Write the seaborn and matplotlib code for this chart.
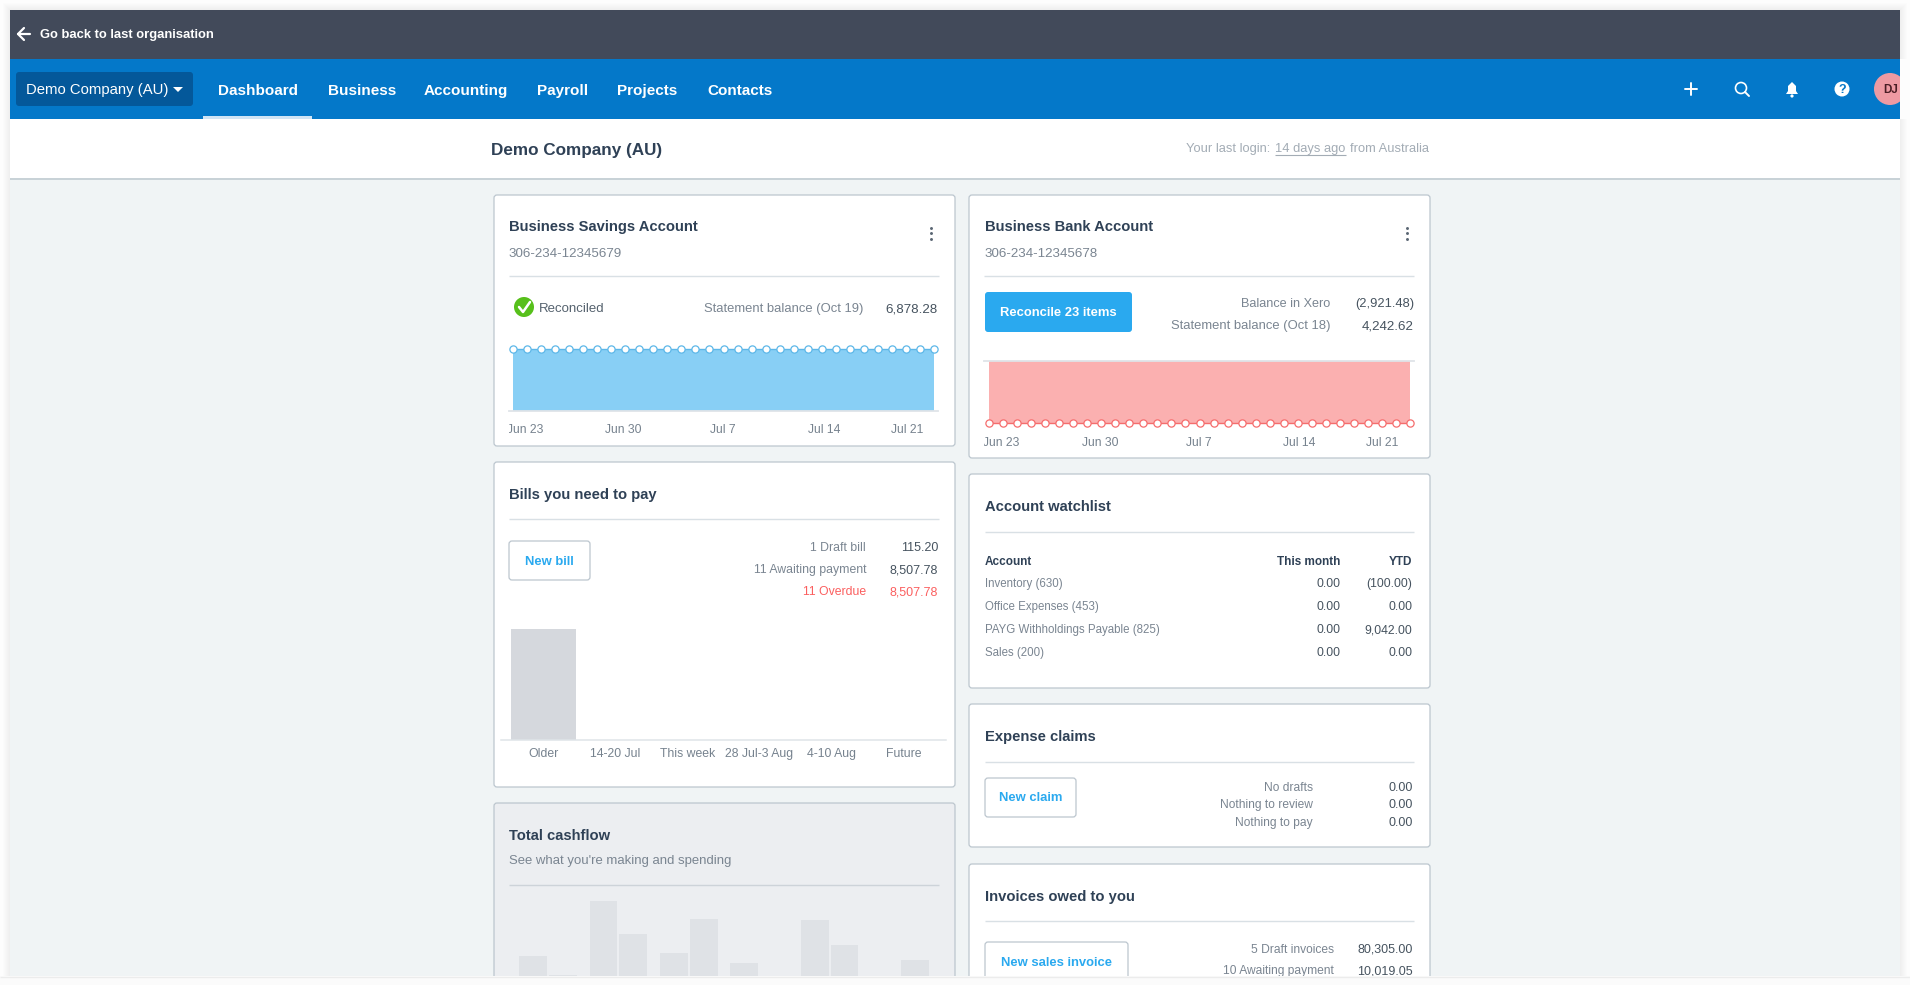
import matplotlib
matplotlib.use("Agg")
import matplotlib.pyplot as plt
from matplotlib.patches import FancyBboxPatch, Rectangle, Circle, Polygon
from matplotlib.transforms import Bbox
import pandas as pd
import seaborn as sns

# ---------- data ----------
day_index = list(range(31))
savings_balance = [6878.28] * 31
bank_balance = [-2921.48] * 31
balance_tick_labels = ["Jun 23", "Jun 30", "Jul 7", "Jul 14", "Jul 21"]
bill_buckets = ["Older", "14-20 Jul", "This week", "28 Jul-3 Aug", "4-10 Aug", "Future"]
bill_amounts = [8507.78, 0, 0, 0, 0, 0]
cash_periods = ["P1", "P2", "P3", "P4", "P5", "P6"]
cash_in = [34, 89, 37, 27, 70, 0]
cash_out = [15, 56, 71, 0, 45, 30]
nav_items = ["Dashboard", "Business", "Accounting", "Payroll", "Projects", "Contacts"]
watch_accounts = ["Inventory (630)", "Office Expenses (453)", "PAYG Withholdings Payable (825)", "Sales (200)"]
watch_month = ["0.00", "0.00", "0.00", "0.00"]
watch_ytd = ["(100.00)", "0.00", "9,042.00", "0.00"]

# ---------- style ----------
sns.set_theme(style="white")
plt.rcParams["font.family"] = ["Liberation Sans", "DejaVu Sans"]
W, H = 1910, 985
DARK, GREY, VAL = "#2f4156", "#7a8591", "#46535f"
BLUE, RED, LINE = "#2aa9ef", "#fb5f5f", "#d9e0e5"
BODY = 9.0
HEAD = 10.6

fig = plt.figure(figsize=(W / 100, H / 100), dpi=100, facecolor="#fdfdfd")
ui = fig.add_axes([0, 0, 1, 1])
ui.set_xlim(0, W)
ui.set_ylim(H, 0)
ui.axis("off")


def px_axes(l, t, r, b):
    ax = fig.add_axes([l / W, 1 - b / H, (r - l) / W, (b - t) / H])
    ax.patch.set_alpha(0)
    return ax


def rect(l, t, r, b, color, z=1, alpha=1):
    ui.add_patch(Rectangle((l, t), r - l, b - t, fc=color, ec="none", zorder=z, alpha=alpha))


def rrect(l, t, r, b, fc, ec="#bcc6ce", rad=3, z=2, lw=0.9):
    ui.add_patch(FancyBboxPatch((l, t), r - l, b - t, boxstyle=f"round,pad=0,rounding_size={rad}",
                                fc=fc, ec=ec, lw=lw, zorder=z))


def txt(x, y, s, color=GREY, size=BODY, weight="normal", ha="left", z=6):
    # y is the visual middle of the capitals; placed on a common baseline
    ui.text(x, y + 0.34 * size * 1.389, s, color=color, fontsize=size, fontweight=weight,
            ha=ha, va="baseline", zorder=z)


def hline(l, r, y, color=LINE, lw=1.0, z=3):
    ui.plot([l, r], [y, y], color=color, lw=lw, zorder=z, solid_capstyle="butt")


def kebab(x, y):
    ui.scatter([x, x, x], [y - 5.5, y, y + 5.5], s=4.5, color="#5a6673", zorder=6, linewidths=0)


# window and shadow
for i in range(1, 8):
    rect(10 - i, 10 - i, 1900 + i, 976 + i, "#000000", z=0, alpha=0.006)
rect(10, 10, 1900, 976, "#f0f4f5", z=0.5)
rect(10, 10, 1900, 59, "#424a5a")
rect(10, 59, 1900, 119, "#0478c9")
rect(10, 119, 1900, 178, "#ffffff")
hline(10, 1900, 178.5, color="#bcc8ce", lw=1.1)

# top bars
ui.plot([18, 30], [34, 34], color="white", lw=1.6, zorder=5)
ui.plot([24, 18, 24], [28, 34, 40], color="white", lw=1.6, zorder=5)
txt(40, 34, "Go back to last organisation", "white", 9.4, "bold")
rrect(16, 72, 193, 106, "#04589a", ec="none", rad=3)
txt(26, 89, "Demo Company (AU)", "white", 10.7)
ui.add_patch(Polygon([(173, 87), (183, 87), (178, 92)], fc="white", ec="none", zorder=6))
nav_x = [218, 328, 424, 537, 617, 707]
for name, x in zip(nav_items, nav_x):
    txt(x, 89.5, name, "white", 11, "bold")
rect(203, 116, 312, 119, "#cfe4f5", z=4)

# right icons
ui.plot([1691, 1691], [83, 95], color="white", lw=1.4, zorder=6)
ui.plot([1685, 1697], [89, 89], color="white", lw=1.4, zorder=6)
ui.add_patch(Circle((1741, 88), 5.5, fc="none", ec="white", lw=1.2, zorder=6))
ui.plot([1745, 1749], [92, 96], color="white", lw=1.4, zorder=6)
ui.add_patch(Polygon([(1786, 94), (1788, 91), (1788, 86), (1792, 82), (1796, 86), (1796, 91), (1798, 94)],
                     fc="white", ec="none", zorder=6))
ui.add_patch(Circle((1792, 96), 1.6, fc="white", ec="none", zorder=6))
ui.add_patch(Circle((1842, 89), 7.5, fc="white", ec="none", zorder=6))
txt(1842, 89, "?", "#0478c9", 9, "bold", "center", z=7)
ui.add_patch(Circle((1890, 89), 16, fc="#ee9aa2", ec="none", zorder=6))
txt(1891, 89.5, "DJ", "#4a1d24", 8.4, "bold", "center", z=7)
rect(1900, 59, 1912, 119, "#fdfdfd", z=6.5)

# title row
txt(491, 149.5, "Demo Company (AU)", DARK, 12.3, "bold")
txt(1186, 148, "Your last login:", "#a3acb5", 9.3)
txt(1275, 148, "14 days ago", "#a3acb5", 9.3)
txt(1349.5, 148, "from Australia", "#a3acb5", 9.3)
hline(1275, 1346, 154.5, "#a3acb5", 0.8)

# ---------- cards ----------
rrect(494, 195, 955, 446, "white")
rrect(969, 195, 1430, 458, "white")
rrect(494, 462, 955, 787, "white")
rrect(494, 803, 955, 1000, "#eceef1")
rrect(969, 474, 1430, 688, "white")
rrect(969, 704, 1430, 847, "white")
rrect(969, 864, 1430, 1000, "white")

# savings card
txt(508.5, 226, "Business Savings Account", DARK, HEAD, "bold")
txt(508.5, 252, "306-234-12345679", GREY, 9.6)
kebab(931, 233)
hline(509, 939, 276)
ui.add_patch(Circle((524, 307), 10, fc="#57c01b", ec="none", zorder=5))
ui.plot([519, 523, 530], [307, 312, 302], color="white", lw=1.8, zorder=6)
txt(538.5, 308, "Reconciled", "#55626e", 9.5)
txt(863, 308, "Statement balance (Oct 19)", GREY, 9.36, ha="right")
txt(938, 308, "6,878.28", VAL, 9.6, ha="right")

# bank card
txt(984.5, 226, "Business Bank Account", DARK, HEAD, "bold")
txt(984.5, 252, "306-234-12345678", GREY, 9.6)
kebab(1407, 233)
hline(984, 1414, 276)
rrect(985, 292, 1132, 332, BLUE, ec="none", rad=3)
txt(1058, 311.5, "Reconcile 23 items", "white", 9.4, "bold", "center")
txt(1330, 303, "Balance in Xero", GREY, 9.1, ha="right")
txt(1330, 325, "Statement balance (Oct 18)", GREY, 9.36, ha="right")
txt(1414, 303, "(2,921.48)", VAL, 9.3, ha="right")
txt(1414, 325, "4,242.62", VAL, 9.6, ha="right")

# bills card
txt(508.5, 494, "Bills you need to pay", DARK, HEAD, "bold")
hline(509, 939, 519)
rrect(509, 541, 590, 580, "white")
txt(549.5, 560.5, "New bill", BLUE, 9.4, "bold", "center")
for y, a, b, c in [(547, "1 Draft bill", "115.20", None), (569, "11 Awaiting payment", "8,507.78", None),
                   (591, "11 Overdue", "8,507.78", RED)]:
    txt(866, y, a, c or GREY, 8.8, ha="right")
    txt(938, y, b, c or VAL, BODY, ha="right")

# cashflow card
txt(508.5, 835, "Total cashflow", DARK, HEAD, "bold")
txt(508.5, 859.5, "See what you're making and spending", GREY, 9.45)
hline(509, 939, 885, "#cdd3d9")

# watchlist
txt(985, 506, "Account watchlist", DARK, HEAD, "bold")
hline(985, 1414, 531.5)
txt(985, 561, "Account", DARK, 8.5, "bold")
txt(1340, 561, "This month", DARK, 8.5, "bold", "right")
txt(1412, 561, "YTD", DARK, 8.5, "bold", "right")
for y, n, m, v in zip([583, 606, 629, 652], watch_accounts, watch_month, watch_ytd):
    txt(985, y, n, GREY, 8.3)
    txt(1340, y, m, VAL, 8.8, ha="right")
    txt(1412, y, v, VAL, 8.8, ha="right")

# expense claims
txt(985, 736, "Expense claims", DARK, HEAD, "bold")
hline(985, 1414, 762)
rrect(985, 778, 1076, 817, "white")
txt(1030.5, 797, "New claim", BLUE, 9.4, "bold", "center")
for y, a in zip([786.5, 804, 822], ["No drafts", "Nothing to review", "Nothing to pay"]):
    txt(1313, y, a, GREY, 8.65, ha="right")
    txt(1413, y, "0.00", VAL, BODY, ha="right")

# invoices
txt(985, 895.5, "Invoices owed to you", DARK, HEAD, "bold")
hline(985, 1414, 921)
rrect(985, 942, 1128, 1000, "white")
txt(1056, 962, "New sales invoice", BLUE, 9.4, "bold", "center")
txt(1334, 948.5, "5 Draft invoices", GREY, 8.65, ha="right")
txt(1413, 948.5, "80,305.00", VAL, BODY, ha="right")
txt(1334, 970, "10 Awaiting payment", GREY, 8.65, ha="right")
txt(1413, 970, "10,019.05", VAL, BODY, ha="right")

# cover everything under the window edge
rect(0, 976, W, H, "#fbfbfb", z=8)
hline(0, W, 976.5, "#ececec", 1, z=9)


# ---------- charts ----------
def balance_chart(l, t, r, b, values, ylim, fill, edge, tick_pos, pad):
    ax = px_axes(l, t, r, b)
    step = 421 / 30
    pad_l = (4 if l == 509 else 5) / step
    ax.fill_between(day_index, values, 0, color=fill, lw=0, zorder=1)
    sns.lineplot(x=day_index, y=values, ax=ax, color=edge, lw=1, marker="o", markersize=5.2,
                 markerfacecolor="white", markeredgecolor=edge, markeredgewidth=0.9,
                 errorbar=None, legend=False, zorder=3, clip_on=False)
    ax.set_xlim(-pad_l, -pad_l + (r - l) / step)
    ax.set_ylim(*ylim)
    ax.set_yticks([])
    ax.set_xticks(tick_pos)
    ax.set_xticklabels(balance_tick_labels, color="#76828e", fontsize=8.7)
    ax.tick_params(axis="x", length=0, pad=pad)
    ax.set_xlabel("")
    ax.set_ylabel("")
    sns.despine(ax=ax, left=True, right=True, top=True, bottom=True)
    # the first label is cut by the card's inner edge
    first = ax.get_xticklabels()[0]
    first.set_clip_on(True)
    first.set_clip_box(Bbox([[l, 0], [W, H]]))
    return ax


a1 = balance_chart(509, 345, 938, 411, savings_balance, (0, 6878.28 * 66 / 62), "#88cff5", "#5db7e8",
                   [0.9, 7.84, 14.97, 22.15, 28.1], 9.5)
a1.spines["bottom"].set_visible(True)
a1.spines["bottom"].set_color("#dfe4e8")
a1.spines["bottom"].set_linewidth(1.3)

a2 = balance_chart(984, 361, 1414, 427, bank_balance, (-2921.48 * 66 / 62, 0), "#fbb0b0", "#f56d6d",
                   [0.9, 7.9, 14.98, 22.1, 28.05], 7)
a2.spines["top"].set_visible(True)
a2.spines["top"].set_color("#dfe4e8")
a2.spines["top"].set_linewidth(1.3)

# bills bars
a3 = px_axes(501, 629, 946, 740)
sns.barplot(x=bill_buckets, y=bill_amounts, ax=a3, color="#d5d8dd", saturation=1, width=0.9, errorbar=None,
            linewidth=0, edgecolor="none")
a3.set_xlim(-0.5 - 6.5 / 72, 5.5 + 6.5 / 72)
a3.set_ylim(0, 8507.78)
a3.set_yticks([])
a3.tick_params(axis="x", length=0, pad=6, labelsize=8.8, labelcolor="#76828e")
sns.despine(ax=a3, left=True, right=True, top=True)
a3.spines["bottom"].set_color("#dfe4e8")
a3.spines["bottom"].set_linewidth(1.1)

# cashflow bars (cut by the window edge)
cash = pd.DataFrame({"period": cash_periods * 2, "value": cash_in + cash_out,
                     "kind": ["in"] * 6 + ["out"] * 6})
a4 = px_axes(494, 890, 955, 976)
sns.barplot(data=cash, x="period", y="value", hue="kind", ax=a4, palette=["#dfe2e6", "#dfe2e6"],
            saturation=1, width=0.85, gap=0.07, errorbar=None, legend=False, linewidth=0, edgecolor="none")
a4.set_xlim(-54 / 70.4, 407 / 70.4)
a4.set_ylim(14, 100)
a4.set_xticks([])
a4.set_yticks([])
a4.set_xlabel("")
a4.set_ylabel("")
sns.despine(ax=a4, left=True, right=True, top=True, bottom=True)

fig.savefig("out.png", dpi=100, facecolor=fig.get_facecolor())
